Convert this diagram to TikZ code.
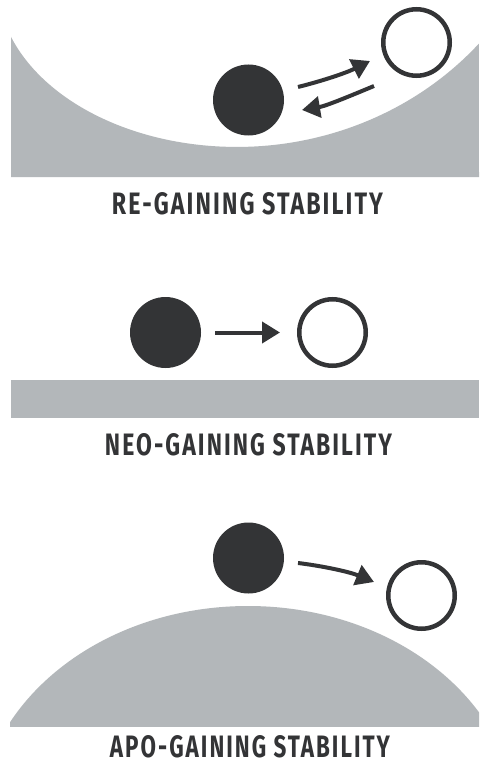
\documentclass[tikz,border=0pt]{standalone}
\usepackage{fontspec}
\setmainfont{Fira Sans}
\newfontfamily\labelfont[LetterSpace=9]{Fira Sans}
\usetikzlibrary{arrows.meta,calc}
\definecolor{ground}{HTML}{B3B7BA}
\definecolor{ink}{HTML}{333436}
\tikzset{
  ballfull/.style={circle, fill=ink, minimum size=71pt, inner sep=0pt, outer sep=0pt},
  ballempty/.style={circle, draw=ink, line width=4.5pt, fill=white, minimum size=66.5pt, inner sep=0pt},
  arr/.style={draw=ink, line width=4pt, -{Triangle[length=18pt,width=21pt]}},
  caption/.style={inner sep=0pt, text=ink},
}
\newcommand{\caplabel}[2]{\resizebox{#1}{22pt}{\labelfont\bfseries #2}}
\begin{document}
\begin{tikzpicture}[x=1pt, y=-1pt]
\useasboundingbox (0,0) rectangle (479,765);
\fill[white] (0,0) rectangle (479,765);
% ---- top panel: bowl ----
\fill[ground] (11,177) -- (11,36.9)
  arc[start angle=160.3, end angle=90, x radius=240, y radius=166]
  arc[start angle=90, end angle=40.9, x radius=320, y radius=299]
  -- (479,177) -- cycle;
\node[ballfull]  (b1) at (248.5,100) {};
\node[ballempty] (w1) at (416.5,42.5) {};
\coordinate (a1s) at ($(b1)+(49.5,-13)$);
\coordinate (a1e) at ($(w1)+(-46.5,18.5)$);
\coordinate (a2s) at ($(w1)+(-42.5,43.5)$);
\coordinate (a2e) at ($(b1)+(53.5,10)$);
\draw[arr] (a1s) .. controls ($(a1s)+(24,-6)$) and ($(a1e)+(-24,12)$) .. (a1e);
\draw[arr] (a2s) .. controls ($(a2s)+(-24,10)$) and ($(a2e)+(24,-4)$) .. (a2e);
\node[caption] (t1) at (247.5,204) {\caplabel{271pt}{RE-GAINING STABILITY}};
% ---- middle panel: flat ----
\fill[ground] (11,380) rectangle (479,418);
\node[ballfull]  (b2) at (165.5,332.5) {};
\node[ballempty] (w2) at (332.5,332.5) {};
\draw[arr, shorten <=14pt, shorten >=17pt] (b2) -- (w2);
\node[caption] (t2) at (248.5,445) {\caplabel{287pt}{NEO-GAINING STABILITY}};
% ---- bottom panel: dome ----
\begin{scope}
  \clip (10,590) rectangle (479,726);
  \fill[ground] (248,826.5) ellipse [x radius=270, y radius=220.5];
\end{scope}
\node[ballfull]  (b3) at (248.5,558) {};
\node[ballempty] (w3) at (421.5,595.5) {};
\coordinate (a3s) at ($(b3)+(49.5,5)$);
\coordinate (a3e) at ($(w3)+(-47.5,-13.5)$);
\draw[arr] (a3s) .. controls ($(a3s)+(25,3)$) and ($(a3e)+(-24,-10)$) .. (a3e);
\node[caption] (t3) at (250,747) {\caplabel{280pt}{APO-GAINING STABILITY}};
\end{tikzpicture}
\end{document}
